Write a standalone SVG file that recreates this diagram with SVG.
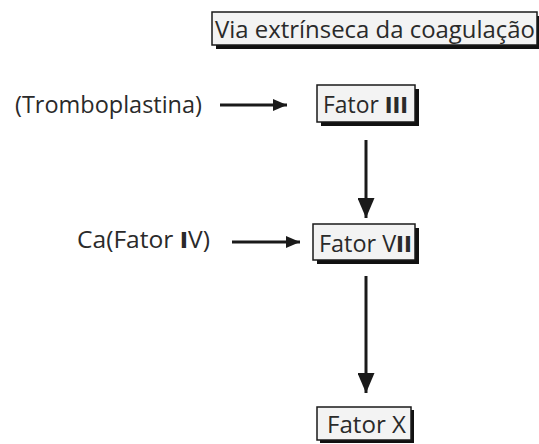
<svg xmlns="http://www.w3.org/2000/svg" width="539" height="444" viewBox="0 0 539 444">
<defs>
<style>
text{font-family:"Open Sans","Noto Sans",sans-serif;fill:#2a2a2a;font-size:23px}
.b{font-family:"DejaVu Sans","Liberation Sans",sans-serif;font-weight:bold;font-size:21px}
.box{fill:#f3f3f3;stroke:#1a1a1a;stroke-width:1.5}
.sh{fill:#111}
.ln{stroke:#1a1a1a;stroke-width:3;fill:none}
</style>
<marker id="ah" viewBox="0 0 14 12" refX="14" refY="6" markerWidth="14" markerHeight="12" markerUnits="userSpaceOnUse" orient="auto">
<path d="M0,0 L14,6 L0,12 Z" fill="#1a1a1a"/>
</marker>
<marker id="av" viewBox="0 0 20 17" refX="20" refY="8.5" markerWidth="20" markerHeight="17" markerUnits="userSpaceOnUse" orient="auto">
<path d="M0,0 L20,8.5 L0,17 Z" fill="#1a1a1a"/>
</marker>
</defs>
<rect width="539" height="444" fill="#fff"/>
<g id="title">
<rect class="sh" x="216" y="16" width="325" height="33"/>
<rect class="box" x="212" y="12" width="325" height="33"/>
<text x="215" y="38" textLength="320" lengthAdjust="spacingAndGlyphs">Via extrínseca da coagulação</text>
</g>
<g id="tromboplastina">
<text x="15" y="113" textLength="187" lengthAdjust="spacingAndGlyphs">(Tromboplastina)</text>
</g>
<g id="fator3">
<rect class="sh" x="321" y="89" width="98" height="37"/>
<rect class="box" x="317" y="85" width="98" height="37"/>
<text x="323" y="113" textLength="85" lengthAdjust="spacingAndGlyphs">Fator <tspan class="b">III</tspan></text>
</g>
<g id="ca">
<text x="77" y="248" textLength="133" lengthAdjust="spacingAndGlyphs">Ca(Fator <tspan class="b">I</tspan>V)</text>
</g>
<g id="fator7">
<rect class="sh" x="317" y="228" width="102" height="36"/>
<rect class="box" x="313" y="224" width="102" height="36"/>
<text x="319" y="252" textLength="93" lengthAdjust="spacingAndGlyphs">Fator V<tspan class="b">II</tspan></text>
</g>
<g id="fator10">
<rect class="sh" x="320" y="410" width="94" height="33"/>
<rect class="box" x="317" y="407" width="94" height="33"/>
<text x="327" y="433" textLength="79" lengthAdjust="spacingAndGlyphs">Fator X</text>
</g>
<g id="connectors">
<line class="ln" x1="220" y1="105" x2="287" y2="105" marker-end="url(#ah)"/>
<line class="ln" x1="232" y1="242" x2="300" y2="242" marker-end="url(#ah)"/>
<line class="ln" x1="366" y1="140" x2="366" y2="218" marker-end="url(#av)"/>
<line class="ln" x1="366" y1="276" x2="366" y2="393" marker-end="url(#av)"/>
</g>
</svg>
